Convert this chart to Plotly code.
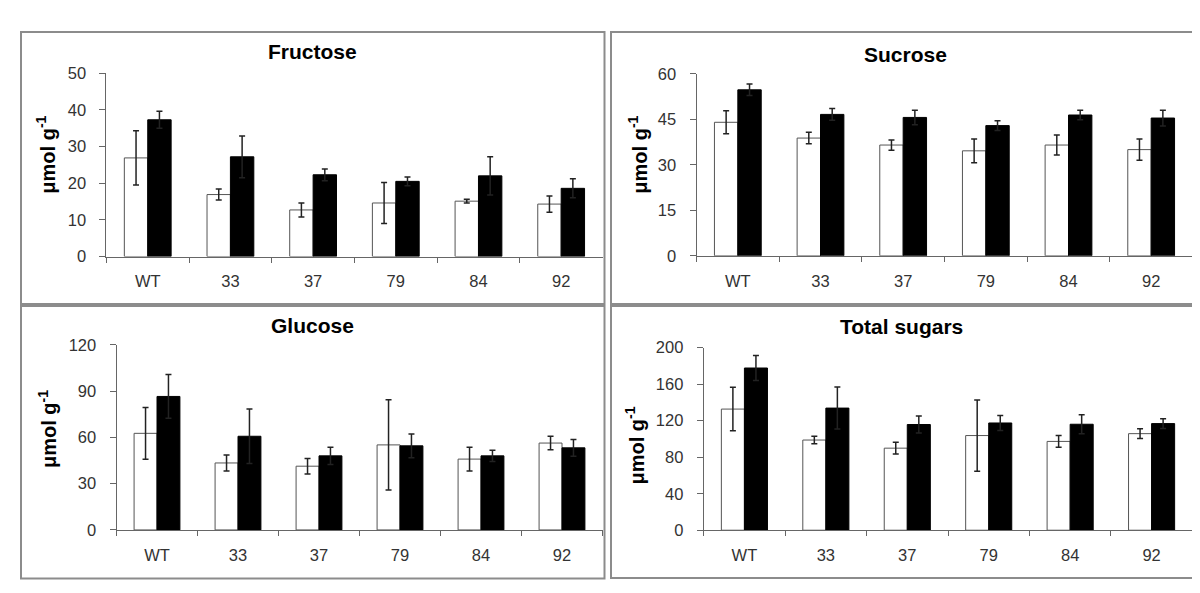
import plotly.graph_objects as go

categories = ["WT", "33", "37", "79", "84", "92"]

fructose_white = [26.9, 16.9, 12.7, 14.6, 15.1, 14.3]
fructose_white_err = [7.4, 1.5, 1.9, 5.6, 0.5, 2.2]
fructose_black = [37.3, 27.2, 22.3, 20.5, 22.0, 18.6]
fructose_black_err = [2.3, 5.7, 1.6, 1.2, 5.2, 2.6]

sucrose_white = [44.0, 38.8, 36.5, 34.6, 36.5, 35.0]
sucrose_white_err = [3.8, 1.9, 1.7, 3.9, 3.3, 3.5]
sucrose_black = [54.7, 46.6, 45.6, 42.9, 46.4, 45.4]
sucrose_black_err = [1.9, 1.9, 2.4, 1.6, 1.6, 2.6]

glucose_white = [62.6, 43.4, 41.3, 55.1, 45.9, 56.3]
glucose_white_err = [16.8, 5.2, 5.0, 29.3, 7.7, 4.4]
glucose_black = [86.5, 60.7, 48.0, 54.5, 48.0, 53.2]
glucose_black_err = [14.2, 17.6, 5.6, 7.7, 3.7, 5.4]

total_white = [132.7, 98.8, 89.9, 103.7, 97.3, 105.8]
total_white_err = [23.8, 4.2, 6.4, 39.0, 6.4, 5.4]
total_black = [177.7, 133.8, 115.8, 117.5, 116.1, 116.8]
total_black_err = [13.8, 23.0, 9.2, 8.2, 10.3, 5.3]

panel_titles = ["Fructose", "Sucrose", "Glucose", "Total sugars"]
y_ranges = [[0, 50], [0, 60], [0, 120], [0, 200]]
y_dticks = [10, 15, 30, 40]
y_label = "μmol g<sup>-1</sup>"

W, H = 1200, 593
def px(x):
    return x / W
def py(y):
    return 1 - y / H

# plot-area pixel boxes (x0, x1, ytop, ybottom)
boxes = [(98.4, 594.5, 58, 247), (688.5, 1184.5, 58.5, 246.3),
         (108.5, 594.5, 338, 529), (695.7, 1184.3, 341, 529.3)]
frames = [(13, 596.5, 15.5, 296), (603, 1187, 15.5, 296),
          (13, 596.5, 298, 579), (603, 1186, 298, 578.5)]
title_pos = [(304, 36), (897, 39), (304, 318), (893, 319)]
ylab_pos = [(38, 142), (630, 142), (39, 425), (627, 442)]

series = [
    (fructose_white, fructose_white_err, fructose_black, fructose_black_err),
    (sucrose_white, sucrose_white_err, sucrose_black, sucrose_black_err),
    (glucose_white, glucose_white_err, glucose_black, glucose_black_err),
    (total_white, total_white_err, total_black, total_black_err),
]

fig = go.Figure()
err_style = dict(type="data", visible=True, color="#222222", thickness=1.5, width=3)

layout = dict(
    width=W, height=H,
    margin=dict(l=0, r=0, t=0, b=0),
    paper_bgcolor="white", plot_bgcolor="white",
    showlegend=False,
    barmode="group", bargap=0.434, bargroupgap=0,
    font=dict(family="Arial, Liberation Sans, sans-serif", color="#333333"),
)

annotations = []
shapes = []
for i in range(4):
    suffix = "" if i == 0 else str(i + 1)
    wv, we, bv, be = series[i]
    fig.add_trace(go.Bar(
        x=categories, y=wv, error_y=dict(array=we, **err_style),
        marker=dict(color="white", line=dict(color="#555555", width=1)),
        xaxis="x" + suffix, yaxis="y" + suffix, name="white"))
    fig.add_trace(go.Bar(
        x=categories, y=bv, error_y=dict(array=be, **err_style),
        marker=dict(color="black", line=dict(color="black", width=1)),
        xaxis="x" + suffix, yaxis="y" + suffix, name="black"))
    x0, x1, yt, yb = boxes[i]
    layout["xaxis" + suffix] = dict(
        domain=[px(x0), px(x1)], anchor="y" + suffix,
        type="category", range=[-0.5, 5.5],
        showline=True, linecolor="#666666", linewidth=1,
        ticks="outside", ticklen=5, tickcolor="#666666", tickwidth=1,
        tickson="boundaries", ticklabelstandoff=10,
        tickfont=dict(size=16.5, color="#333333"),
        showgrid=False, zeroline=False, fixedrange=True,
    )
    layout["yaxis" + suffix] = dict(
        domain=[py(yb), py(yt)], anchor="x" + suffix,
        range=y_ranges[i], dtick=y_dticks[i], tick0=0,
        showline=True, linecolor="#666666", linewidth=1,
        ticks="outside", ticklen=6, tickcolor="#666666", tickwidth=1,
        ticklabelstandoff=10,
        tickfont=dict(size=16.5, color="#333333"),
        showgrid=False, zeroline=False, fixedrange=True,
    )
    tx, ty = title_pos[i]
    annotations.append(dict(
        text="<b>" + panel_titles[i] + "</b>", x=px(tx), y=py(ty),
        xref="paper", yref="paper", showarrow=False,
        xanchor="center", yanchor="middle",
        font=dict(size=21, color="black", family="Arial, Liberation Sans, sans-serif")))
    lx, ly = ylab_pos[i]
    annotations.append(dict(
        text="<b>" + y_label + "</b>", x=px(lx), y=py(ly),
        xref="paper", yref="paper", showarrow=False, textangle=-90,
        xanchor="center", yanchor="middle",
        font=dict(size=20, color="black", family="Arial, Liberation Sans, sans-serif")))
    fx0, fx1, fy0, fy1 = frames[i]
    shapes.append(dict(
        type="rect", xref="paper", yref="paper",
        x0=px(fx0), x1=px(fx1), y0=py(fy1), y1=py(fy0),
        line=dict(color="#8c8c8c", width=2), fillcolor="rgba(0,0,0,0)", layer="below"))

layout["annotations"] = annotations
layout["shapes"] = shapes
fig.update_layout(**layout)

fig.write_html("out.html")
